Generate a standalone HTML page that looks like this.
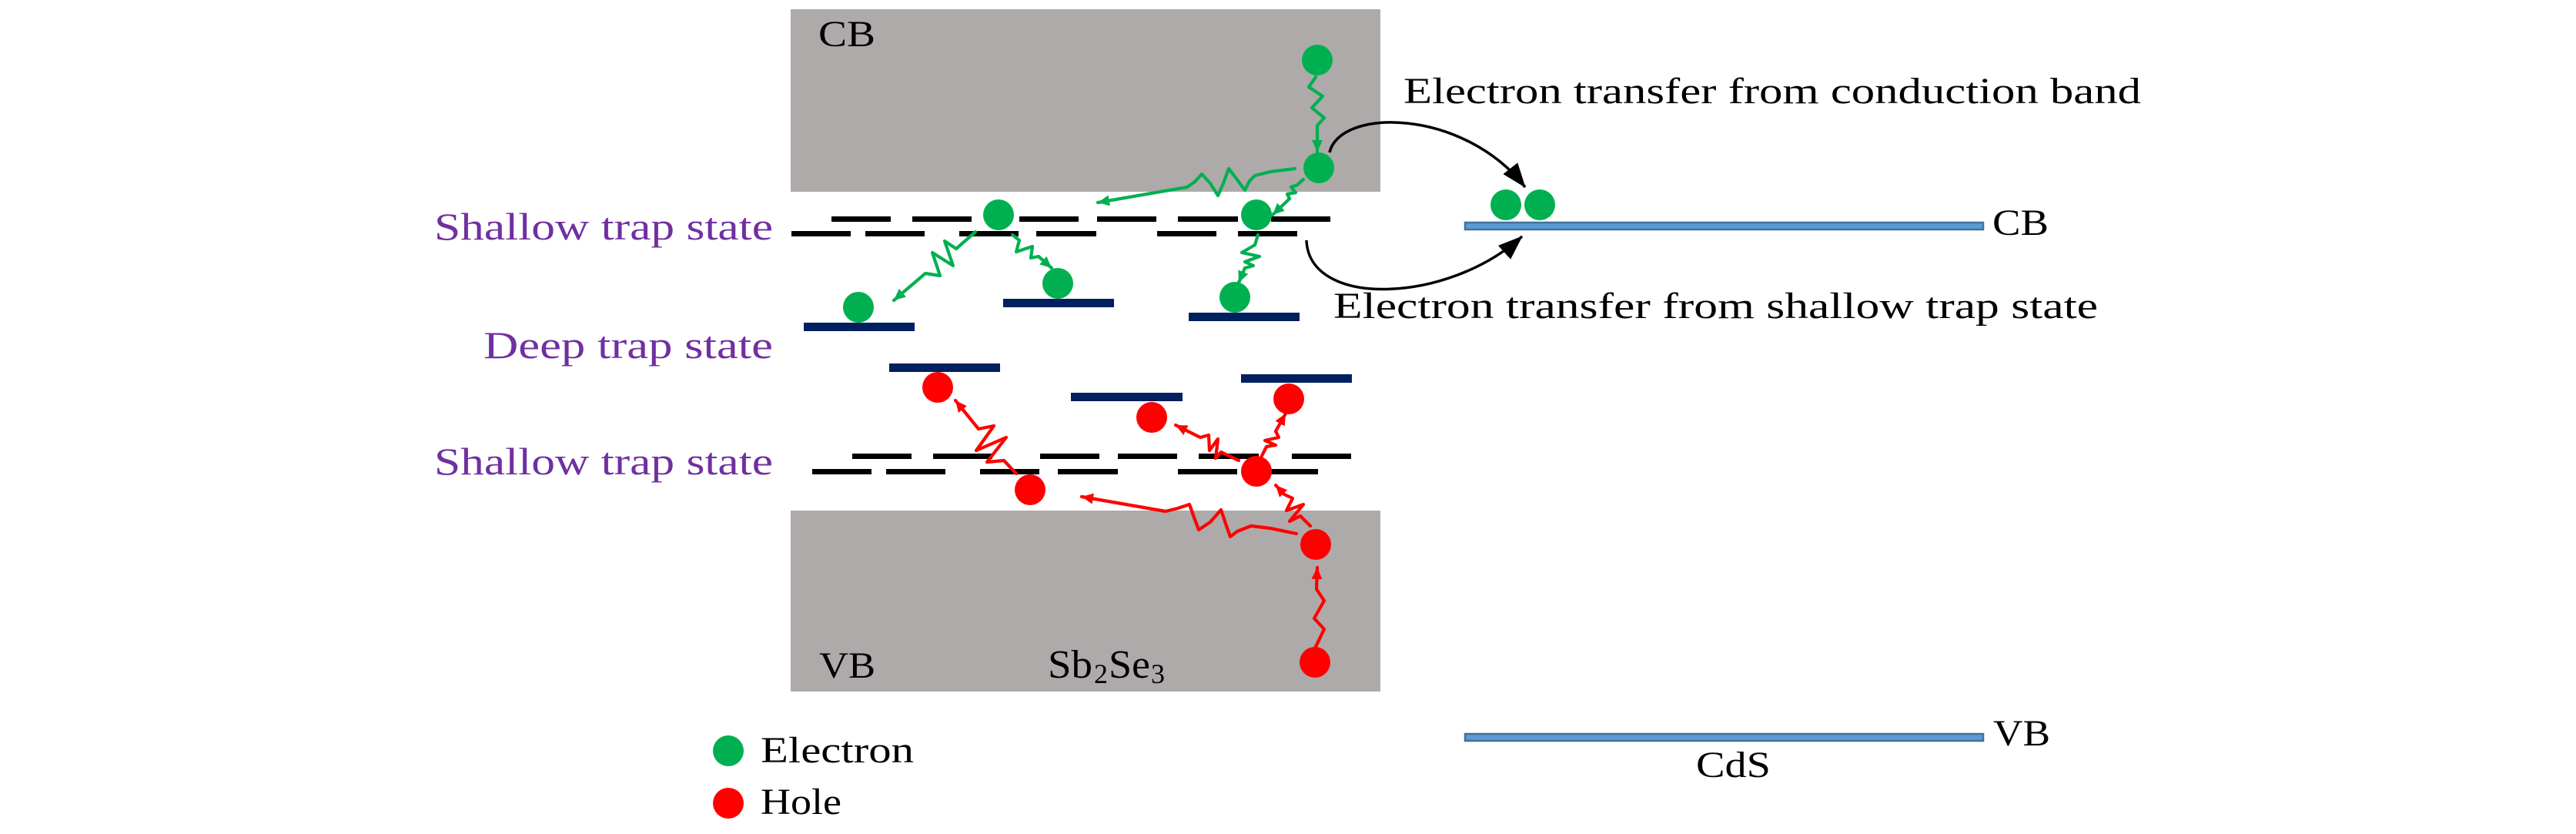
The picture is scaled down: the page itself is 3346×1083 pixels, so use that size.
<!DOCTYPE html>
<html>
<head>
<meta charset="utf-8">
<style>
html,body{margin:0;padding:0;background:#fff;}
svg{display:block;}
text{font-family:"Liberation Serif",serif;}
</style>
</head>
<body>
<svg width="3346" height="1083" viewBox="0 0 3346 1083" xmlns="http://www.w3.org/2000/svg">
<defs>
<marker id="ag" markerUnits="userSpaceOnUse" markerWidth="16" markerHeight="14" refX="15" refY="7" orient="auto"><path d="M0,0 L15,7 L0,14 z" fill="#00B050"/></marker>
<marker id="ar" markerUnits="userSpaceOnUse" markerWidth="16" markerHeight="14" refX="15" refY="7" orient="auto"><path d="M0,0 L15,7 L0,14 z" fill="#FF0000"/></marker>
<marker id="ak" markerUnits="userSpaceOnUse" markerWidth="32" markerHeight="24" refX="31" refY="12" orient="auto"><path d="M0,0 L32,12 L0,24 z" fill="#000"/></marker>
</defs>

<!-- Sb2Se3 bands -->
<rect x="1027" y="12" width="766" height="237" fill="#AEAAAA"/>
<rect x="1027" y="663" width="766" height="235" fill="#AEAAAA"/>

<text x="1063" y="60" font-size="48" textLength="74" lengthAdjust="spacingAndGlyphs">CB</text>
<text x="1064" y="880" font-size="48" textLength="73" lengthAdjust="spacingAndGlyphs">VB</text>
<text x="1361" y="880" font-size="52" textLength="58" lengthAdjust="spacingAndGlyphs">Sb</text>
<text x="1421" y="887" font-size="36">2</text>
<text x="1440" y="880" font-size="52" textLength="54" lengthAdjust="spacingAndGlyphs">Se</text>
<text x="1495" y="887" font-size="36">3</text>

<!-- upper shallow trap dashes -->
<g fill="#000">
<rect x="1080" y="281" width="77" height="7"/>
<rect x="1185" y="281" width="77" height="7"/>
<rect x="1324" y="281" width="77" height="7"/>
<rect x="1425" y="281" width="77" height="7"/>
<rect x="1530" y="281" width="78" height="7"/>
<rect x="1651" y="281" width="77" height="7"/>
<rect x="1028" y="300" width="77" height="7"/>
<rect x="1124" y="300" width="77" height="7"/>
<rect x="1246" y="300" width="77" height="7"/>
<rect x="1346" y="300" width="78" height="7"/>
<rect x="1503" y="300" width="77" height="7"/>
<rect x="1608" y="300" width="77" height="7"/>
<!-- lower shallow trap dashes -->
<rect x="1107" y="589" width="77" height="7"/>
<rect x="1212" y="589" width="77" height="7"/>
<rect x="1351" y="589" width="77" height="7"/>
<rect x="1452" y="589" width="77" height="7"/>
<rect x="1557" y="589" width="78" height="7"/>
<rect x="1678" y="589" width="77" height="7"/>
<rect x="1055" y="609" width="77" height="7"/>
<rect x="1151" y="609" width="77" height="7"/>
<rect x="1273" y="609" width="77" height="7"/>
<rect x="1374" y="609" width="78" height="7"/>
<rect x="1530" y="609" width="77" height="7"/>
<rect x="1635" y="609" width="77" height="7"/>
</g>

<!-- deep trap bars -->
<g fill="#002060">
<rect x="1044" y="419" width="144" height="11"/>
<rect x="1303" y="388" width="144" height="11"/>
<rect x="1544" y="406" width="144" height="11"/>
<rect x="1155" y="472" width="144" height="11"/>
<rect x="1391" y="510" width="145" height="11"/>
<rect x="1612" y="486" width="144" height="11"/>
</g>

<!-- purple labels -->
<g fill="#7030A0">
<text x="564" y="311" font-size="50" textLength="440" lengthAdjust="spacingAndGlyphs">Shallow trap state</text>
<text x="628" y="465" font-size="50" textLength="376" lengthAdjust="spacingAndGlyphs">Deep trap state</text>
<text x="564" y="616" font-size="50" textLength="440" lengthAdjust="spacingAndGlyphs">Shallow trap state</text>
</g>

<!-- green arrows -->
<g fill="none" stroke="#00B050" stroke-width="4.2" stroke-linejoin="round" stroke-linecap="round">
<polyline points="1709,100 1700,113 1718,125 1704,140 1720,153 1711,163 1711,197" marker-end="url(#ag)"/>
<polyline points="1682,219 1650,223 1630,228 1623,235 1617,247 1606,232 1596,219 1589,238 1582,254 1572,238 1561,226 1552,236 1542,243 1426,263" marker-end="url(#ag)"/>
<polyline points="1693,233 1685,240 1677,243 1683,250 1672,252 1675,258 1653,279" marker-end="url(#ag)"/>
<polyline points="1267,301 1242,323 1227,313 1238,345 1211,328 1221,358 1202,355 1161,390" marker-end="url(#ag)"/>
<polyline points="1315,305 1324,312 1320,327 1341,320 1339,335 1349,333 1366,348" marker-end="url(#ag)"/>
<polyline points="1634,305 1630,318 1613,328 1636,333 1617,340 1628,345 1617,348 1609,367" marker-end="url(#ag)"/>
</g>

<!-- red arrows -->
<g fill="none" stroke="#FF0000" stroke-width="4.2" stroke-linejoin="round" stroke-linecap="round">
<polyline points="1708,842 1720,817 1707,803 1720,780 1710,765 1711,737" marker-end="url(#ar)"/>
<polyline points="1684,693 1650,686 1625,683 1607,690 1598,697 1592,680 1586,662 1572,678 1557,688 1551,672 1545,655 1530,660 1514,664 1405,645" marker-end="url(#ar)"/>
<polyline points="1702,683 1689,670 1675,677 1693,655 1671,663 1679,647 1668,642 1657,630" marker-end="url(#ar)"/>
<polyline points="1609,598 1586,587 1579,595 1582,570 1571,585 1570,565 1559,568 1527,552" marker-end="url(#ar)"/>
<polyline points="1639,592 1645,580 1657,578 1643,572 1661,568 1657,560 1670,537" marker-end="url(#ar)"/>
<polyline points="1320,615 1304,598 1282,600 1307,568 1268,585 1291,553 1271,557 1241,520" marker-end="url(#ar)"/>
</g>

<!-- electrons -->
<g fill="#00B050">
<circle cx="1711" cy="78" r="20"/>
<circle cx="1713" cy="218" r="20"/>
<circle cx="1297" cy="279" r="20"/>
<circle cx="1632" cy="279" r="20"/>
<circle cx="1115" cy="399" r="20"/>
<circle cx="1374" cy="368" r="20"/>
<circle cx="1604" cy="386" r="20"/>
<circle cx="1956" cy="266" r="20"/>
<circle cx="2000" cy="266" r="20"/>
<circle cx="946" cy="975" r="20"/>
</g>
<!-- holes -->
<g fill="#FF0000">
<circle cx="1218" cy="503" r="20"/>
<circle cx="1496" cy="542" r="20"/>
<circle cx="1674" cy="518" r="20"/>
<circle cx="1338" cy="636" r="20"/>
<circle cx="1632" cy="612" r="20"/>
<circle cx="1709" cy="707" r="20"/>
<circle cx="1708" cy="860" r="20"/>
<circle cx="946" cy="1043" r="20"/>
</g>

<!-- black transfer arrows -->
<path d="M1727,198 C1740,140 1900,140 1981,243" fill="none" stroke="#000" stroke-width="3.5" marker-end="url(#ak)"/>
<path d="M1697,312 C1700,400 1880,395 1977,307" fill="none" stroke="#000" stroke-width="3.5" marker-end="url(#ak)"/>

<!-- CdS bands -->
<rect x="1903" y="289" width="673" height="9" fill="#5B9BD5" stroke="#41719C" stroke-width="2.5"/>
<rect x="1903" y="953" width="673" height="9" fill="#5B9BD5" stroke="#41719C" stroke-width="2.5"/>

<text x="1823" y="134" font-size="48" textLength="958" lengthAdjust="spacingAndGlyphs">Electron transfer from conduction band</text>
<text x="1732" y="413" font-size="48" textLength="993" lengthAdjust="spacingAndGlyphs">Electron transfer from shallow trap state</text>
<text x="2588" y="305" font-size="48" textLength="73" lengthAdjust="spacingAndGlyphs">CB</text>
<text x="2589" y="968" font-size="48" textLength="74" lengthAdjust="spacingAndGlyphs">VB</text>
<text x="2203" y="1009" font-size="48" textLength="97" lengthAdjust="spacingAndGlyphs">CdS</text>

<!-- legend -->
<text x="988" y="990" font-size="48" textLength="199" lengthAdjust="spacingAndGlyphs">Electron</text>
<text x="988" y="1057" font-size="48" textLength="105" lengthAdjust="spacingAndGlyphs">Hole</text>
</svg>
</body>
</html>
